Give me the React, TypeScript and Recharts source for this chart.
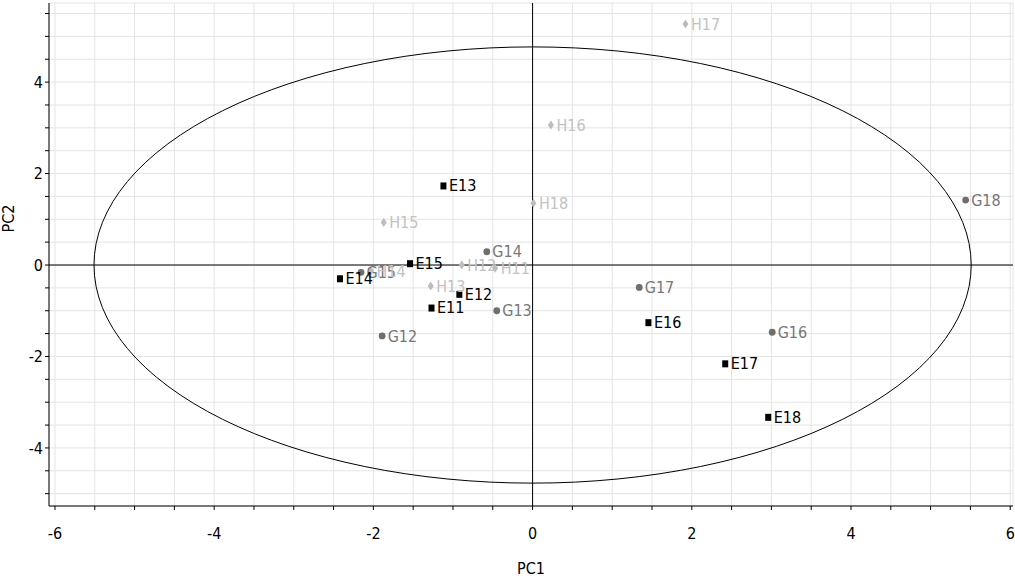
import React from "react";
import {
  ScatterChart,
  Scatter,
  XAxis,
  YAxis,
  CartesianGrid,
  ReferenceLine,
  ReferenceArea,
  LabelList,
} from "recharts";

const FONT = '"Liberation Sans Narrow", "DejaVu Sans Condensed", "Noto Sans", sans-serif';

// group E (black squares)
const E_LABELS = ["E11", "E12", "E13", "E14", "E15", "E16", "E17", "E18"];
const E_PC1 = [-1.27, -0.92, -1.12, -2.42, -1.54, 1.455, 2.42, 2.96];
const E_PC2 = [-0.93, -0.63, 1.74, -0.29, 0.04, -1.25, -2.15, -3.32];

// group G (dark grey circles)
const G_LABELS = ["G12", "G13", "G14", "G15", "G16", "G17", "G18"];
const G_PC1 = [-1.89, -0.45, -0.575, -2.155, 3.01, 1.34, 5.44];
const G_PC2 = [-1.55, -1.0, 0.29, -0.16, -1.47, -0.49, 1.42];

// group H (light grey diamonds)
const H_LABELS = ["H11", "H12", "H13", "H14", "H15", "H16", "H17", "H18"];
const H_PC1 = [-0.47, -0.89, -1.28, -2.03, -1.87, 0.23, 1.92, 0.01];
const H_PC2 = [-0.07, 0.0, -0.46, -0.13, 0.93, 3.06, 5.27, 1.35];

// confidence ellipse semi-axes
const ELLIPSE_A = 5.51;
const ELLIPSE_B = 4.77;

const X_DOMAIN = [-6.075, 6.035];
const Y_DOMAIN = [-5.27, 5.73];
const X_TICKS = [-6, -5.5, -5, -4.5, -4, -3.5, -3, -2.5, -2, -1.5, -1, -0.5, 0, 0.5, 1, 1.5, 2, 2.5, 3, 3.5, 4, 4.5, 5, 5.5, 6];
const Y_TICKS = [-5, -4.5, -4, -3.5, -3, -2.5, -2, -1.5, -1, -0.5, 0, 0.5, 1, 1.5, 2, 2.5, 3, 3.5, 4, 4.5, 5, 5.5];

const toPoints = (labels: string[], xs: number[], ys: number[]) =>
  labels.map((name, i) => ({ name, x: xs[i], y: ys[i] }));

const ePoints = toPoints(E_LABELS, E_PC1, E_PC2);
const gPoints = toPoints(G_LABELS, G_PC1, G_PC2);
const hPoints = toPoints(H_LABELS, H_PC1, H_PC2);

const evenOnly = (v: number) => (v % 2 === 0 ? String(v) : "");

const SquareDot = (p: any) => (
  <rect x={p.cx - 3} y={p.cy - 3} width={6} height={7} fill="#000" />
);
const CircleDot = (p: any) => <circle cx={p.cx} cy={p.cy} r={3.4} fill="#6e6e6e" />;
const DiamondDot = (p: any) => (
  <path
    d={`M${p.cx},${p.cy - 4.5}L${p.cx + 3},${p.cy}L${p.cx},${p.cy + 4.5}L${p.cx - 3},${p.cy}Z`}
    fill="#bdbdbd"
  />
);

const EllipseShape = (p: any) => (
  <ellipse
    cx={p.x + p.width / 2}
    cy={p.y + p.height / 2}
    rx={Math.abs(p.width) / 2}
    ry={Math.abs(p.height) / 2}
    fill="none"
    stroke="#000"
    strokeWidth={1}
  />
);

const labelProps = { position: "right" as const, offset: 1, fontSize: 16, fontFamily: FONT };

export default function App() {
  return (
    <div style={{ position: "fixed", left: 0, top: 0, width: 1015, height: 583, background: "#fff" }}>
      <ScatterChart width={1015} height={583} margin={{ top: 3, right: 2, bottom: 0, left: 0 }}>
        <CartesianGrid stroke="#e4e4e4" strokeWidth={1} />
        <XAxis
          type="number"
          dataKey="x"
          domain={X_DOMAIN}
          ticks={X_TICKS}
          tickFormatter={evenOnly}
          allowDataOverflow
          height={77}
          stroke="#000"
          tickSize={4}
          tickMargin={18}
          tick={{ fill: "#000", fontSize: 16, fontFamily: FONT }}
          label={{ value: "PC1", position: "insideBottom", offset: 9, fill: "#000", fontSize: 16, fontFamily: FONT }}
        />
        <YAxis
          type="number"
          dataKey="y"
          domain={Y_DOMAIN}
          ticks={Y_TICKS}
          tickFormatter={evenOnly}
          allowDataOverflow
          width={49}
          stroke="#000"
          tickSize={4}
          tickMargin={2}
          tick={{ fill: "#000", fontSize: 16, fontFamily: FONT }}
          label={{ value: "PC2", angle: -90, position: "insideLeft", offset: 8, dy: -22, fill: "#000", fontSize: 16, fontFamily: FONT }}
        />
        <ReferenceArea fill="none" stroke="#000" strokeWidth={1.2} fillOpacity={0} />
        <ReferenceArea
          x1={-ELLIPSE_A}
          x2={ELLIPSE_A}
          y1={-ELLIPSE_B}
          y2={ELLIPSE_B}
          shape={EllipseShape}
        />
        <ReferenceLine x={0} stroke="#000" strokeWidth={1} />
        <ReferenceLine y={0} stroke="#000" strokeWidth={1} />
        <Scatter data={gPoints} shape={CircleDot} isAnimationActive={false}>
          <LabelList dataKey="name" fill="#777" {...labelProps} />
        </Scatter>
        <Scatter data={hPoints} shape={DiamondDot} isAnimationActive={false}>
          <LabelList dataKey="name" fill="#c2c2c2" {...labelProps} />
        </Scatter>
        <Scatter data={ePoints} shape={SquareDot} isAnimationActive={false}>
          <LabelList dataKey="name" fill="#000" {...labelProps} />
        </Scatter>
      </ScatterChart>
    </div>
  );
}
